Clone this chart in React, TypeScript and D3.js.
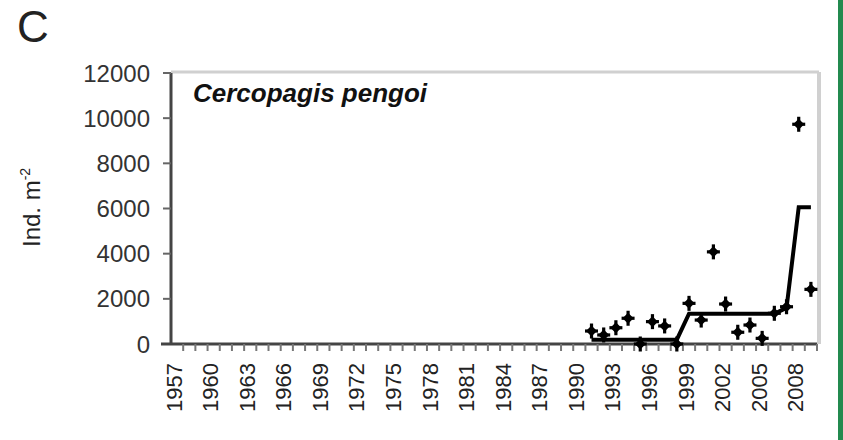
import React from "react";
import * as d3 from "d3";

const years: number[] = d3.range(1957, 2010);
const tickLabelYears: number[] = [1957, 1960, 1963, 1966, 1969, 1972, 1975, 1978, 1981, 1984, 1987, 1990, 1993, 1996, 1999, 2002, 2005, 2008];
const yTicks: number[] = [0, 2000, 4000, 6000, 8000, 10000, 12000];

const obsYears: number[] = [1991, 1992, 1993, 1994, 1995, 1996, 1997, 1998, 1999, 2000, 2001, 2002, 2003, 2004, 2005, 2006, 2007, 2008, 2009];
const obsValues: number[] = [575, 400, 720, 1140, 0, 990, 800, 0, 1800, 1060, 4080, 1770, 520, 840, 250, 1360, 1650, 9730, 2420];
const trendValues: number[] = [190, 190, 190, 190, 190, 190, 190, 190, 1340, 1340, 1340, 1340, 1340, 1340, 1340, 1340, 1600, 6050, 6050];

const W = 843, H = 440;
const L = 171, R = 817, T = 73, B = 344;

export default function App() {
  const x = d3.scaleBand<number>().domain(years).range([L, R]).padding(0);
  const y = d3.scaleLinear().domain([0, 12000]).range([B, T]);
  const cx = (yr: number) => (x(yr) as number) + x.bandwidth() / 2;

  const line = d3.line<number>()
    .x((_, i) => cx(obsYears[i]))
    .y((v) => y(v));

  const marker = (px: number, py: number, k: number) => (
    <g key={k} transform={`translate(${px},${py})`}>
      <path d="M0,-5.5 L5.5,0 L0,5.5 L-5.5,0 Z" fill="#000" />
      <rect x={-1.6} y={-7.5} width={3.2} height={15} fill="#000" />
      <rect x={-6.5} y={-1.6} width={13} height={3.2} fill="#000" />
    </g>
  );

  const font = "'Liberation Sans', Arial, sans-serif";

  return (
    <div style={{ position: "absolute", left: 0, top: 0 }}>
      <svg width={W} height={H} style={{ display: "block", background: "#fff" }}>
        <rect x={0} y={0} width={W} height={H} fill="#fff" />
        <rect x={838} y={0} width={5} height={H} fill="#238a4f" />
        {/* panel letter */}
        <text x={17} y={42} fontFamily={font} fontSize={44} fill="#222">C</text>

        {/* plot border (light) */}
        <line x1={L} x2={R + 2} y1={T - 1} y2={T - 1} stroke="#d0d0d0" strokeWidth={3} />
        <line x1={R + 2} x2={R + 2} y1={T - 1} y2={B} stroke="#d0d0d0" strokeWidth={4} />

        {/* y axis */}
        <line x1={L} x2={L} y1={T} y2={B + 1} stroke="#444" strokeWidth={3} />
        {yTicks.map((t) => (
          <g key={t}>
            <line x1={L - 8} x2={L} y1={y(t)} y2={y(t)} stroke="#666" strokeWidth={2} />
            <text x={150} y={y(t)} textAnchor="end" dominantBaseline="central" fontFamily={font} fontSize={24} fill="#333">{t}</text>
          </g>
        ))}

        {/* x axis */}
        <line x1={L - 10} x2={R} y1={B} y2={B} stroke="#444" strokeWidth={3} />
        {years.map((yr) => (
          <line key={yr} x1={(x(yr) as number) + x.bandwidth()} x2={(x(yr) as number) + x.bandwidth()} y1={B} y2={B + 7} stroke="#777" strokeWidth={2} />
        ))}
        {tickLabelYears.map((yr) => (
          <text key={yr} transform={`translate(${cx(yr) - 3},363) rotate(-90)`} textAnchor="end" dominantBaseline="central" fontFamily={font} fontSize={22} fill="#222">{yr}</text>
        ))}

        {/* y title */}
        <text transform="translate(40,247) rotate(-90)" fontFamily={font} fontSize={24} fill="#222">
          Ind. m<tspan fontSize={14} dy={-10}>-2</tspan>
        </text>

        {/* species name */}
        <text x={193} y={102} fontFamily={font} fontSize={26} fontStyle="italic" fontWeight="bold" fill="#111">Cercopagis pengoi</text>

        {/* trend line */}
        <path d={line(trendValues) || ""} fill="none" stroke="#000" strokeWidth={4} strokeLinejoin="miter" />

        {/* observations */}
        {obsValues.map((v, i) => marker(cx(obsYears[i]), y(v), i))}
      </svg>
    </div>
  );
}
